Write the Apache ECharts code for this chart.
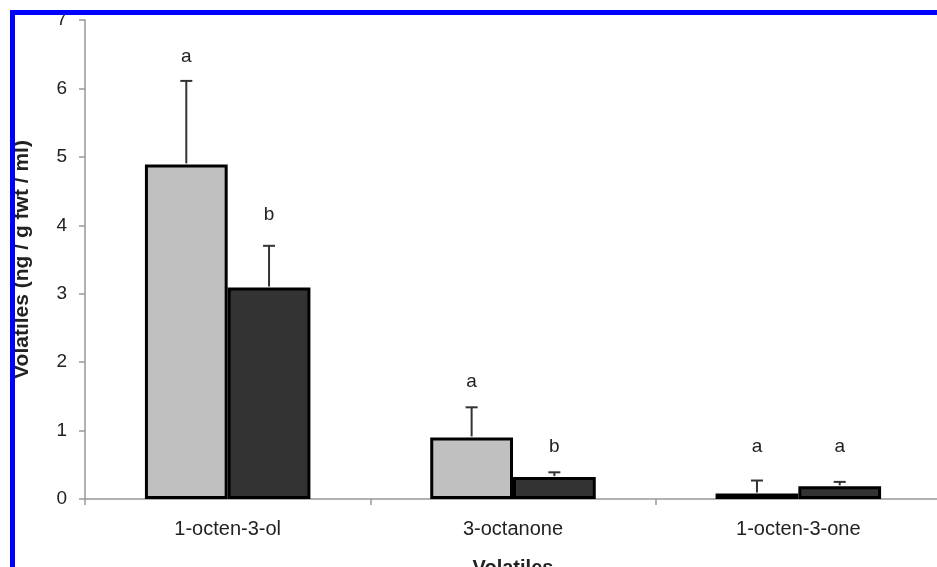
<!DOCTYPE html>
<html>
<head>
<meta charset="utf-8">
<script src="https://cdn.jsdelivr.net/npm/echarts@6/dist/echarts.min.js"></script>
<style>html,body{margin:0;padding:0;background:#fff;}#c{width:937px;height:567px;}</style>
</head>
<body>
<div id="c"></div>
<script>
var categories = ['1-octen-3-ol', '3-octanone', '1-octen-3-one'];
var yTicks = [0, 1, 2, 3, 4, 5, 6, 7];
var lightValues = [4.89, 0.90, 0.08];
var lightErrTop = [6.11, 1.34, 0.27];
var darkValues = [3.09, 0.32, 0.185];
var darkErrTop = [3.70, 0.39, 0.25];
var lightLetters = ['a', 'a', 'a'];
var lightLetterY = [6.47, 1.72, 0.76];
var darkLetters = ['b', 'b', 'a'];
var darkLetterY = [4.15, 0.76, 0.76];

var FONT = '"Liberation Sans", Arial, sans-serif';
var chart = echarts.init(document.getElementById('c'));

function errData(vals, tops, letters, ly) {
  return categories.map(function (c, i) { return [i, vals[i], tops[i], ly[i], letters[i]]; });
}
function makeErr(sign) {
  return function (params, api) {
    var i = api.value(0);
    var base = api.coord([i, api.value(1)]);
    var top = api.coord([i, api.value(2)]);
    var lt = api.coord([i, api.value(3)]);
    var band = api.size([1, 0])[0];
    var cx = base[0] + sign * band * 0.145;
    var st = { stroke: '#333', lineWidth: 2 };
    return {
      type: 'group',
      children: [
        { type: 'line', shape: { x1: cx, y1: base[1] - 1, x2: cx, y2: top[1] }, style: st },
        { type: 'line', shape: { x1: cx - 6, y1: top[1], x2: cx + 6, y2: top[1] }, style: st },
        { type: 'text', style: { text: api.value(4), x: cx, y: lt[1], align: 'center', verticalAlign: 'middle',
          fill: '#222', font: '19px ' + FONT } }
      ]
    };
  };
}

chart.setOption({
  animation: false,
  backgroundColor: '#fff',
  grid: { left: 85, right: -4, top: 20, bottom: 68, containLabel: false, outerBoundsMode: 'none' },
  xAxis: {
    type: 'category',
    data: categories,
    name: 'Volatiles',
    nameLocation: 'middle',
    nameGap: 59,
    nameTextStyle: { fontFamily: FONT, fontSize: 20, fontWeight: 'bold', color: '#222' },
    axisLine: { lineStyle: { color: '#999', width: 1.5 } },
    axisTick: { show: true, length: 6, lineStyle: { color: '#999', width: 1.5 } },
    axisLabel: { fontFamily: FONT, fontSize: 20, color: '#222', margin: 20 }
  },
  yAxis: {
    type: 'value',
    min: yTicks[0],
    max: yTicks[yTicks.length - 1],
    interval: 1,
    name: 'Volatiles (ng / g fwt / ml)',
    nameLocation: 'middle',
    nameGap: 52,
    nameTextStyle: { fontFamily: FONT, fontSize: 21, fontWeight: 'bold', color: '#222' },
    axisLine: { show: true, lineStyle: { color: '#999', width: 1.5 } },
    axisTick: { show: true, length: 6, lineStyle: { color: '#999', width: 1.5 } },
    axisLabel: { fontFamily: FONT, fontSize: 19, color: '#222', margin: 18 },
    splitLine: { show: false }
  },
  series: [
    { type: 'bar', data: lightValues, barWidth: '29%', barGap: '0%',
      itemStyle: { color: '#c0c0c0', borderColor: '#000', borderWidth: 3 } },
    { type: 'bar', data: darkValues, barWidth: '29%', barGap: '0%',
      itemStyle: { color: '#333333', borderColor: '#000', borderWidth: 3 } },
    { type: 'custom', renderItem: makeErr(-1), data: errData(lightValues, lightErrTop, lightLetters, lightLetterY),
      encode: { x: 0, y: [1, 2] }, z: 5 },
    { type: 'custom', renderItem: makeErr(1), data: errData(darkValues, darkErrTop, darkLetters, darkLetterY),
      encode: { x: 0, y: [1, 2] }, z: 5 }
  ],
  graphic: [
    { type: 'rect', shape: { x: 10, y: 10, width: 927, height: 5 }, style: { fill: '#0000ff' }, z: 100 },
    { type: 'rect', shape: { x: 10, y: 10, width: 5, height: 557 }, style: { fill: '#0000ff' }, z: 100 }
  ]
});
</script>
</body>
</html>
